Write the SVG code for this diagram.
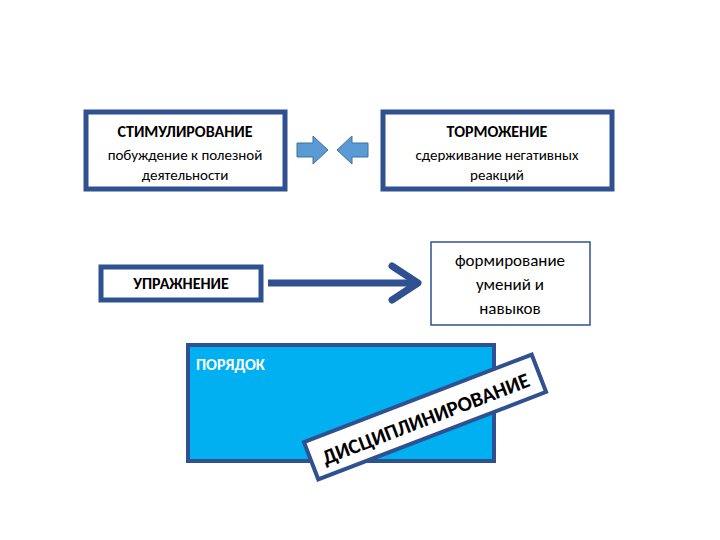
<svg xmlns="http://www.w3.org/2000/svg" width="720" height="540" viewBox="0 0 720 540">
<style>
.b{fill:#fff;stroke:#2F5191;stroke-width:5}
.t{font-family:Calibri,Carlito,"Liberation Sans",sans-serif;text-anchor:middle;fill:#000}
.h{font-weight:bold;font-size:16px}
.n{font-size:15px}
.ba{fill:#5B9BD5;stroke:#41719C;stroke-width:1}
</style>
<rect width="720" height="540" fill="#fff"/>
<g id="stim"><rect class="b" x="86" y="112" width="199" height="77"/>
<text class="t h" x="185" y="137">СТИМУЛИРОВАНИЕ</text>
<text class="t n" x="185" y="160">побуждение к полезной</text>
<text class="t n" x="185" y="180">деятельности</text></g>
<g id="torm"><rect class="b" x="383" y="112" width="229" height="77"/>
<text class="t h" x="497" y="137">ТОРМОЖЕНИЕ</text>
<text class="t n" x="497" y="160">сдерживание негативных</text>
<text class="t n" x="497" y="180">реакций</text></g>
<g id="upr"><rect class="b" x="101" y="267" width="160" height="33"/>
<text class="t h" x="181" y="289">УПРАЖНЕНИЕ</text></g>
<g id="form"><rect x="431" y="242" width="159" height="83" fill="#fff" stroke="#2F5191" stroke-width="1.5"/>
<text class="t n" x="510" y="266" style="font-size:17px">формирование</text>
<text class="t n" x="510" y="290" style="font-size:17px">умений и</text>
<text class="t n" x="510" y="314" style="font-size:17px">навыков</text></g>
<g id="poryadok"><rect x="188" y="345" width="306" height="116" fill="#00B0F0" stroke="#2F5191" stroke-width="4"/>
<text x="196" y="370" style="font-family:Calibri,Carlito,'Liberation Sans',sans-serif;font-weight:bold;font-size:16px;fill:#fff">ПОРЯДОК</text></g>
<g id="disc" transform="translate(425,417) rotate(-21)">
<rect x="-122" y="-20" width="244" height="40" fill="#fff" stroke="#2F5191" stroke-width="4"/>
<text class="t" x="0" y="9" style="font-family:Calibri,Carlito,'Liberation Sans',sans-serif;font-weight:bold;font-size:21px">ДИСЦИПЛИНИРОВАНИЕ</text></g>
<g id="connectors">
<polygon class="ba" points="297,143 313,143 313,136 328,150 313,164 313,157 297,157"/>
<polygon class="ba" points="368,143 352,143 352,136 337,150 352,164 352,157 368,157"/>
<line x1="268" y1="283" x2="418" y2="283" stroke="#2F5191" stroke-width="7"/>
<polyline points="392,266 418,283 392,300" fill="none" stroke="#2F5191" stroke-width="7" stroke-linecap="round" stroke-linejoin="round"/>
</g>
</svg>
